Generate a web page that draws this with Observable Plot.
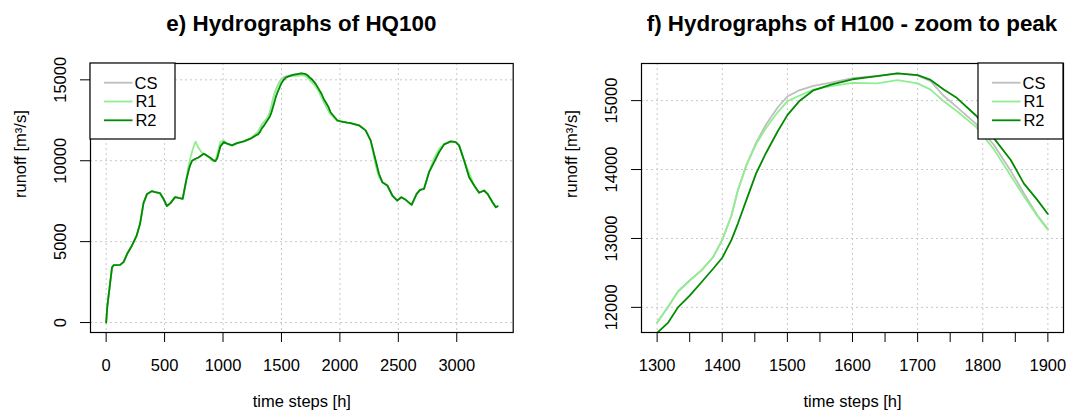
<!DOCTYPE html>
<html><head><meta charset="utf-8">
<script src="https://cdn.jsdelivr.net/npm/d3@7"></script>
<script src="https://cdn.jsdelivr.net/npm/@observablehq/plot@0.6"></script>
<style>
body{margin:0;background:#fff;}
#wrap{position:relative;width:1067px;height:416px;overflow:hidden;background:#fff;}
#wrap svg{position:absolute;top:0;}
</style></head><body><div id="wrap"></div>
<script>
// ---- data ----
const hours = [0,10,20,35,50,65,120,150,180,220,
260,290,320,350,390,420,460,490,520,550,
590,620,655,685,705,720,735,750,765,790,
820,835,860,890,920,935,950,977,1006,1035,
1077,1120,1177,1235,1290,
1300,1317,1332,1350,1368,1386,1400,1414,1424,1437,
1452,1467,1485,1500,1518,1540,1567,1600,1638,1669,
1700,1720,1740,1760,1790,1817,1843,1863,1884,1900,
1920,1977,2006,2063,2091,2163,2220,2263,2306,2334,
2363,2406,2449,2491,2526,2563,2614,2657,2686,2720,
2763,2806,2849,2891,2949,2991,3020,3063,3106,3149,
3191,3234,3263,3306,3334,3349];

const cs = [0,1000,1600,2500,3400,3550,3560,3750,4250,4750,
5350,6100,7400,7950,8120,8060,8000,7650,7200,7380,
7750,7700,7650,8780,9400,9750,10000,10060,10120,10200,
10350,10434,10330,10186,10019,9976,10150,10886,11153,11054,
10948,11091,11196,11364,11720,
11780,12010,12230,12390,12536,12730,12980,13330,13700,14060,
14390,14650,14900,15060,15150,15215,15262,15325,15360,15394,
15365,15282,15070,14910,14660,14360,13980,13658,13334,13140,
12900,12500,12440,12355,12330,12188,11878,11258,10019,9195,
8674,8470,7850,7541,7745,7584,7274,7955,8203,8265,
9294,9914,10533,11010,11196,11153,10948,10019,8984,8470,
8018,8160,7955,7436,7125,7190];

const r1 = [0,1000,1600,2500,3400,3550,3560,3750,4250,4750,
5350,6100,7400,7950,8120,8060,8000,7650,7200,7380,
7750,7700,7650,8780,9700,10150,10550,10900,11180,10800,
10480,10434,10330,10150,9950,10000,10400,11150,11250,11060,
10948,11091,11196,11364,11720,
11780,12010,12230,12390,12536,12730,12980,13330,13700,14060,
14370,14600,14830,14990,15070,15160,15210,15258,15250,15296,
15250,15160,14990,14850,14615,14296,13910,13614,13324,13125,
12880,12450,12440,12355,12330,12188,11878,11258,9700,9000,
8674,8470,7850,7541,7745,7584,7274,7955,8203,8265,
9294,10150,10750,11010,11196,11153,10948,10019,9250,8470,
8018,8160,7955,7436,7125,7190];

const r2 = [0,1000,1600,2500,3400,3550,3560,3750,4250,4750,
5350,6100,7400,7950,8120,8060,8000,7650,7200,7380,
7750,7700,7650,8780,9400,9750,10000,10060,10120,10200,
10350,10434,10330,10186,10019,9976,10150,10886,11153,11054,
10948,11091,11196,11364,11600,
11630,11780,12000,12170,12365,12560,12720,12975,13216,13556,
13945,14237,14552,14790,14990,15150,15233,15310,15355,15394,
15370,15300,15160,15040,14780,14456,14139,13800,13556,13355,
13000,12500,12440,12355,12330,12188,11878,11258,10019,9195,
8674,8470,7850,7541,7745,7584,7274,7955,8203,8265,
9294,9914,10533,11010,11196,11153,10948,10019,8984,8470,
8018,8160,7955,7436,7125,7190];

const seriesNames = ["CS", "R1", "R2"];
const seriesColors = ["#BEBEBE", "#90EE90", "#008B00"];
const titleE = "e) Hydrographs of HQ100";
const titleF = "f) Hydrographs of H100 - zoom to peak";
const xLabel = "time steps [h]";
const yLabel = "runoff [m³/s]";
const xTicksE = [0, 500, 1000, 1500, 2000, 2500, 3000];
const yTicksE = [0, 5000, 10000, 15000];
const xTicksF = [1300,1350,1400,1450,1500,1550,1600,1650,1700,1750,1800,1850,1900];
const xGridF = [1300,1400,1500,1600,1700,1800,1900];
const yTicksF = [12000, 13000, 14000, 15000];
const zoomRange = [1300, 1900];

// ---- build ----
const rows = hours.map((h, i) => ({h, CS: cs[i], R1: r1[i], R2: r2[i]}));
const zoomRows = rows.filter(d => d.h >= zoomRange[0] && d.h <= zoomRange[1]);
const padExtent = vals => { const [a, b] = d3.extent(vals); const p = (b - a) * 0.04; return [a - p, b + p]; };

const FONT = "'Liberation Sans', Arial, Helvetica, sans-serif";
const H = 416, MT = 63, MB = 84;

function makePanel(o) {
  const marks = [
    Plot.gridX(o.xGrid, {stroke: "#c8c8c8", strokeOpacity: 1, strokeDasharray: "2,3", strokeWidth: 1}),
    Plot.gridY(o.yTicks, {stroke: "#c8c8c8", strokeOpacity: 1, strokeDasharray: "2,3", strokeWidth: 1}),
  ];
  seriesNames.forEach((s, k) => marks.push(
    Plot.line(o.rows, {x: "h", y: s, stroke: seriesColors[k], strokeWidth: 1.8, clip: true})
  ));
  marks.push(Plot.frame({stroke: "black", strokeWidth: 1.2}));
  marks.push(Plot.axisX(o.xTicks, {tickSize: 10, tickPadding: 17, fontSize: 16.5, tickFormat: o.xFormat, label: null}));
  marks.push(Plot.axisY(o.yTicks, {tickSize: 10, tickPadding: 15, tickRotate: -90, fontSize: 16.5, tickFormat: d => String(d), label: null}));
  marks.push(Plot.text([xLabel], {text: d => d, frameAnchor: "bottom", dy: 74, fontSize: 16.5}));
  marks.push(Plot.text([yLabel], {text: d => d, frameAnchor: "left", dx: -70, rotate: -90, fontSize: 16.5}));
  const svg = Plot.plot({
    width: o.width, height: H, marginTop: MT, marginBottom: MB,
    marginLeft: o.marginLeft, marginRight: o.marginRight,
    x: {domain: o.xDomain}, y: {domain: o.yDomain},
    style: {fontFamily: FONT, fontSize: "16.5px", color: "black", background: "white", overflow: "visible"},
    marks
  });
  const sel = d3.select(svg);
  // title (baseline positioned)
  sel.append("text")
    .attr("x", o.marginLeft + (o.width - o.marginLeft - o.marginRight) / 2).attr("y", 31)
    .attr("text-anchor", "middle").attr("font-family", FONT).attr("font-size", 22.4)
    .attr("font-weight", "bold").attr("fill", "black").text(o.title);
  // legend
  const lw = 85, lh = 76;
  const x0 = o.legendSide === "left" ? o.marginLeft : o.width - o.marginRight - lw;
  const y0 = MT;
  const g = sel.append("g");
  g.append("rect").attr("x", x0).attr("y", y0).attr("width", lw).attr("height", lh)
    .attr("fill", "white").attr("stroke", "black").attr("stroke-width", 1.2);
  seriesNames.forEach((n, k) => {
    const yy = y0 + 19.7 + k * 18.8;
    g.append("line").attr("x1", x0 + 14).attr("x2", x0 + 42.5).attr("y1", yy).attr("y2", yy)
      .attr("stroke", seriesColors[k]).attr("stroke-width", 1.8);
    g.append("text").attr("x", x0 + 56).attr("y", yy).attr("dy", "0.36em")
      .attr("font-family", FONT).attr("font-size", 16.5).attr("fill", "black").text(n);
  });
  svg.style.left = o.left + "px";
  return svg;
}

const wrap = document.getElementById("wrap");
wrap.appendChild(makePanel({
  left: 0, width: 533, marginLeft: 90, marginRight: 20.3,
  rows, xDomain: padExtent(hours), yDomain: padExtent([...cs, ...r1, ...r2]),
  xTicks: xTicksE, xGrid: xTicksE, yTicks: yTicksE, xFormat: d => String(d),
  title: titleE, legendSide: "left"
}));
wrap.appendChild(makePanel({
  left: 533, width: 534, marginLeft: 108, marginRight: 4,
  rows: zoomRows, xDomain: padExtent(zoomRange), yDomain: padExtent(zoomRows.map(d => d.CS)),
  xTicks: xTicksF, xGrid: xGridF, yTicks: yTicksF, xFormat: d => (d % 100 === 0 ? String(d) : ""),
  title: titleF, legendSide: "right"
}));
</script></body></html>
